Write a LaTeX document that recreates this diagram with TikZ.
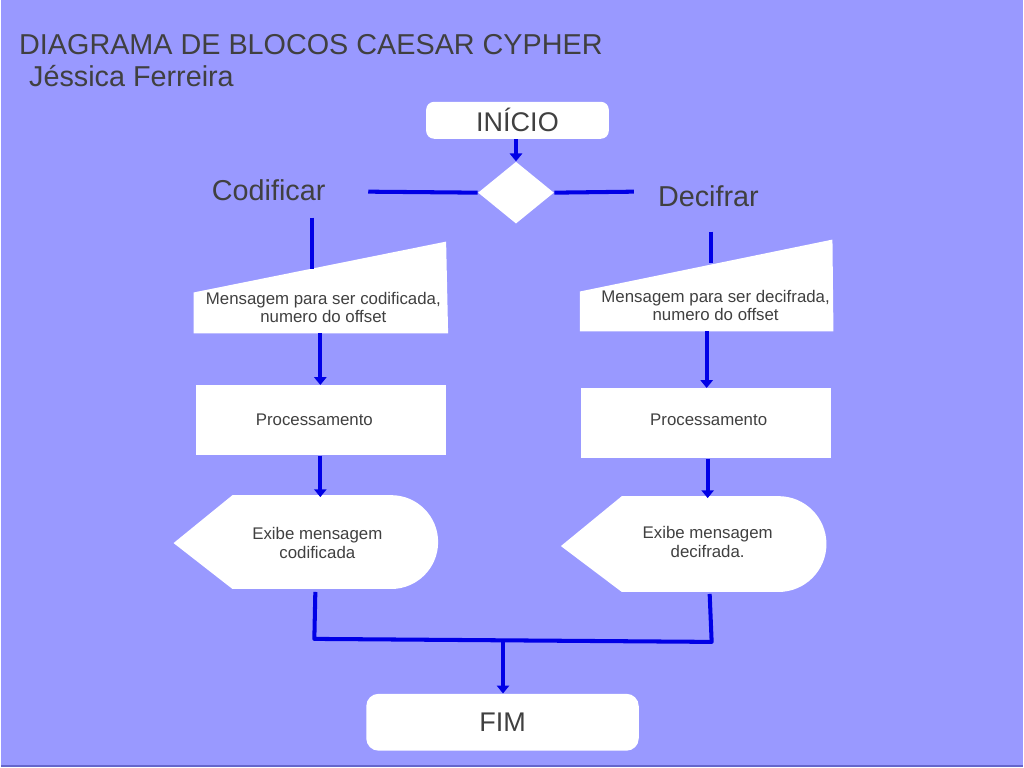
\documentclass[tikz,border=0pt]{standalone}
\usepackage{fontspec}
\setmainfont{Liberation Sans}
\usetikzlibrary{shapes.geometric}
\usetikzlibrary{arrows.meta}
\definecolor{bgblue}{RGB}{153,153,255}
\definecolor{edgeblue}{RGB}{102,102,204}
\definecolor{flowblue}{RGB}{0,0,230}
\definecolor{txtgray}{RGB}{64,64,64}
\tikzset{
  flow/.style={draw=flowblue,line width=2.3pt},
  arr/.style={flow,-{Triangle[width=7pt,length=4.5pt]}},
  bigtxt/.style={text=txtgray,font=\fontsize{16.4}{19}\selectfont,inner sep=0pt},
  smalltxt/.style={text=txtgray,font=\fontsize{9.6}{10.8}\selectfont,align=center,inner sep=0pt},
  termbox/.style={fill=white,draw=none,text=txtgray,font=\fontsize{15.4}{18}\selectfont},
  procbox/.style={fill=white,draw=none,minimum width=5.02cm,minimum height=1.4cm,inner sep=0pt}
}

\begin{document}
\begin{tikzpicture}[x=0.02cm,y=-0.02cm]
\fill[bgblue] (0,0) rectangle (1024,768);
\draw[edgeblue,line width=1pt] (0,767.5) -- (1024,767.5);

\node[bigtxt,anchor=base west] (title) at (18,55) {DIAGRAMA DE BLOCOS CAESAR CYPHER};
\node[bigtxt,anchor=base west] (autor) at (28,87) {Jéssica Ferreira};

\node[termbox,rounded corners=4.5pt,minimum width=3.66cm,minimum height=0.74cm] (inicio) at (517.5,120.5) {INÍCIO};
\node[diamond,fill=white,minimum width=1.52cm,minimum height=1.24cm,inner sep=0pt] (escolha) at (516,193) {};
\draw[arr] (escolha.north |- inicio.south) -- (escolha.north);

\coordinate (codFim) at (368,192);
\coordinate (decFim) at (634,192);
\draw[flow] (escolha.west) -- (codFim);
\draw[flow] (escolha.east) -- (decFim);
\node[bigtxt,anchor=base west] (codificar) at (211,201) {Codificar};
\node[bigtxt,anchor=base west] (decifrar) at (658,207) {Decifrar};

% entradas
\fill[white] (193,293) -- (446,242) -- (448,334) -- (193,334) -- cycle;
\fill[white] (580,292) -- (833,240) -- (834,332) -- (580,332) -- cycle;
\node[smalltxt] (entL) at (323,308) {Mensagem para ser codificada,\\numero do offset};
\node[smalltxt] (entR) at (716,306) {Mensagem para ser decifrada,\\numero do offset};
\coordinate (codTopo) at (312,218);
\coordinate (entLtopo) at (312,269);
\coordinate (decTopo) at (711,232);
\coordinate (entRtopo) at (711,263);
\draw[flow] (codTopo) -- (entLtopo);
\draw[flow] (decTopo) -- (entRtopo);

\node[procbox] (procL) at (320.5,421) {};
\node[procbox] (procR) at (706.5,424) {};
\node[smalltxt] (procLtxt) at (314,421) {Processamento};
\node[smalltxt] (procRtxt) at (709,421) {Processamento};
\coordinate (entLbase) at (320,334);
\coordinate (entRbase) at (707,332);
\draw[arr] (entLbase) -- (procL.north -| entLbase);
\draw[arr] (entRbase) -- (procR.north -| entRbase);

% saidas
\fill[white] (173,544) -- (232,496) -- (391,496) arc[start angle=-90,end angle=90,radius=47] -- (232,590) -- cycle;
\fill[white] (561,547) -- (622,497) -- (779,497) arc[start angle=-90,end angle=90,radius=48] -- (622,593) -- cycle;
\node[smalltxt] (exibeL) at (317,544) {Exibe mensagem\\codificada};
\node[smalltxt] (exibeR) at (708,543) {Exibe mensagem\\decifrada.};
\coordinate (exLtopo) at (320,498);
\coordinate (exRtopo) at (708,499);
\draw[arr] (procL.south -| exLtopo) -- (exLtopo);
\draw[arr] (procR.south -| exRtopo) -- (exRtopo);

\coordinate (exLbase) at (315,593);
\coordinate (exRbase) at (710,595);
\coordinate (juntaL) at (314,640);
\coordinate (juntaR) at (712,643);
\coordinate (juntaM) at (503,642);
\draw[flow,line join=round] (exLbase) -- (juntaL) -- (juntaR) -- (exRbase);

\node[termbox,rounded corners=7pt,minimum width=5.46cm,minimum height=1.14cm] (fim) at (502.5,723.5) {FIM};
\draw[arr] (juntaM) -- (fim.north -| juntaM);
\end{tikzpicture}
\end{document}
